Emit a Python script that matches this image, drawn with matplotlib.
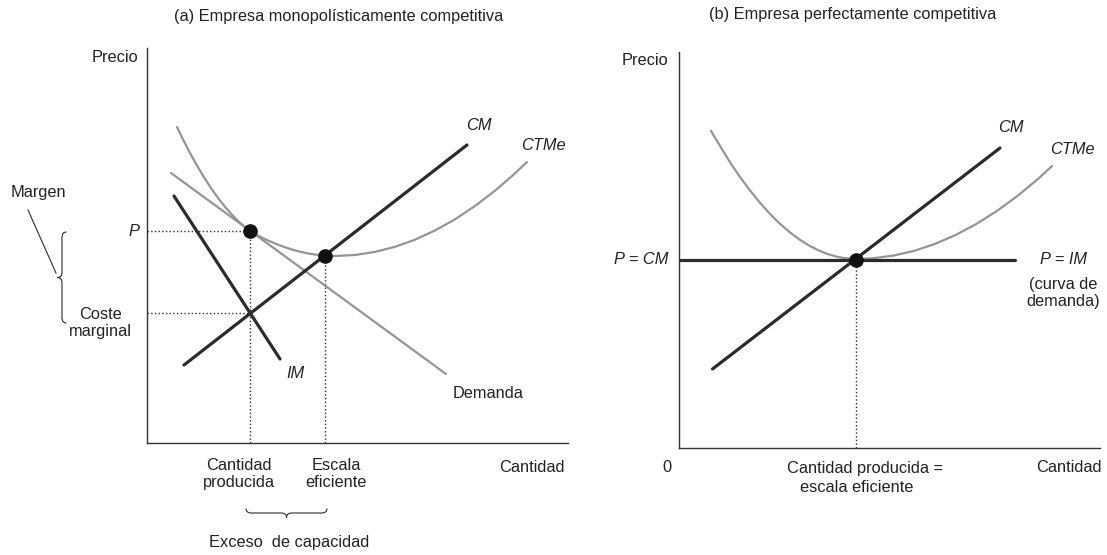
import matplotlib
matplotlib.use("Agg")
import matplotlib.pyplot as plt
from matplotlib.path import Path
from matplotlib.patches import PathPatch

plt.rcParams['font.family'] = ['Liberation Sans', 'DejaVu Sans']

# ---- (a) monopolistically competitive firm ----
ctme_a_q = [3.0, 3.6, 4.3, 5.0, 5.7, 6.4, 7.1, 7.8, 8.5, 9.2, 9.8, 10.3, 11.1,
            11.9, 12.8, 13.8, 14.9, 16.1, 17.3, 18.8, 20.8, 22.8, 24.8, 26.8,
            28.8, 30.8, 32.8, 34.8, 36.5, 38.0]
ctme_a_p = [31.6, 30.36, 29.0, 27.74, 26.57, 25.49, 24.51, 23.62, 22.82, 22.12,
            21.58, 21.2, 20.75, 20.35, 19.95, 19.57, 19.23, 18.95, 18.78, 18.7,
            18.8, 19.11, 19.62, 20.33, 21.25, 22.37, 23.7, 25.23, 26.69, 28.1]
demand_a_q = [2.4, 29.9]
demand_a_p = [27.0, 6.9]
cm_a_q = [3.7, 32.0]
cm_a_p = [7.8, 29.8]
im_a_q = [2.7, 13.3]
im_a_p = [24.7, 8.4]
q_prod_a, p_a = 10.3, 21.2        # quantity produced, price
cm_level_a = 13.0                 # marginal cost at quantity produced
q_eff_a, ctme_min_a = 17.8, 18.7  # efficient scale

# ---- (b) perfectly competitive firm ----
ctme_b_q = [3.2, 4.2, 5.15, 6.12, 7.1, 8.07, 9.04, 10.01, 10.99, 11.96, 12.93,
            13.91, 14.88, 15.85, 16.82, 17.7, 19.36, 21.43, 23.51, 25.58,
            27.66, 29.73, 31.8, 33.88, 35.95, 37.3]
ctme_b_p = [31.71, 30.05, 28.5, 27.07, 25.76, 24.56, 23.47, 22.5, 21.65, 20.91,
            20.29, 19.78, 19.39, 19.11, 18.95, 18.9, 18.97, 19.24, 19.71, 20.4,
            21.3, 22.4, 23.71, 25.23, 26.95, 28.19]
cm_b_q = [3.35, 32.1]
cm_b_p = [7.9, 30.0]
im_b_q = [0, 33.6]
price_b = 18.8
q_eff_b = 17.7

DARK = '#2b2b2b'
GRAY = '#959595'
FS = 11.8


def brace(ax, a0, a1, c, w, vertical=True):
    # curly brace from a0 to a1 at position c, tip pointing to -w side
    m = (a0 + a1) / 2
    d = w * 1.2
    pts = [(c + w, a1), (c, a1), (c, a1 - d),
           (c, m + d), (c, m), (c - w, m),
           (c, m), (c, m - d),
           (c, a0 + d), (c, a0), (c + w, a0)]
    if not vertical:
        pts = [(y, x) for x, y in pts]
    codes = [Path.MOVETO, Path.CURVE3, Path.CURVE3, Path.LINETO,
             Path.CURVE3, Path.CURVE3, Path.CURVE3, Path.CURVE3,
             Path.LINETO, Path.CURVE3, Path.CURVE3]
    ax.add_patch(PathPatch(Path(pts, codes), fc='none', ec=DARK, lw=0.8,
                           clip_on=False))


def setup(ax, xmax, ymax):
    ax.set_xlim(0, xmax)
    ax.set_ylim(0, ymax)
    for s in ['top', 'right']:
        ax.spines[s].set_visible(False)
    for s in ['left', 'bottom']:
        ax.spines[s].set_color('#333333')
        ax.spines[s].set_linewidth(1.0)
    ax.set_xticks([])
    ax.set_yticks([])


fig = plt.figure(figsize=(11.07, 5.55), dpi=100)
ax1 = fig.add_axes([147 / 1107, 1 - 443 / 555, 421 / 1107, 395 / 555])
ax2 = fig.add_axes([679 / 1107, 1 - 448 / 555, 421 / 1107, 396 / 555])
setup(ax1, 42.1, 39.5)
setup(ax2, 42.1, 39.6)

dot = dict(ls=':', color=DARK, lw=1.0)
curve = dict(color=GRAY, lw=1.6, solid_capstyle='round', solid_joinstyle='round')
bold = dict(color=DARK, lw=2.3, solid_capstyle='round')

# panel (a)
ax1.plot([0, q_prod_a], [p_a, p_a], **dot)
ax1.plot([0, q_prod_a], [cm_level_a, cm_level_a], **dot)
ax1.plot([q_prod_a, q_prod_a], [0, p_a], **dot)
ax1.plot([q_eff_a, q_eff_a], [0, ctme_min_a], **dot)
ax1.plot(ctme_a_q, ctme_a_p, **curve)
ax1.plot(demand_a_q, demand_a_p, **curve)
ax1.plot(cm_a_q, cm_a_p, **bold)
ax1.plot(im_a_q, im_a_p, **bold)
ax1.plot([q_prod_a, q_eff_a], [p_a, ctme_min_a], 'o', color='#111111', ms=9.5,
         zorder=5)

kw = dict(fontsize=FS, color='#222222', clip_on=False)
ax1.text(19.2, 42.6, '(a) Empresa monopolísticamente competitiva',
         ha='center', va='center', **kw)
ax1.text(-0.9, 38.5, 'Precio', ha='right', va='center', **kw)
ax1.text(-0.8, p_a, 'P', ha='right', va='center', style='italic', **kw)
ax1.text(-4.7, 12.0, 'Coste\nmarginal', ha='center', va='center',
         linespacing=1.2, **kw)
ax1.text(-10.9, 25.0, 'Margen', ha='center', va='center', **kw)
ax1.plot([-11.9, -9.1], [23.3, 17.0], color=DARK, lw=0.8, clip_on=False)
brace(ax1, 12.0, 21.1, -8.5, 0.45, vertical=True)
ax1.text(33.2, 31.8, 'CM', ha='center', va='center', style='italic', **kw)
ax1.text(39.6, 29.8, 'CTMe', ha='center', va='center', style='italic', **kw)
ax1.text(14.8, 7.0, 'IM', ha='center', va='center', style='italic', **kw)
ax1.text(34.1, 4.9, 'Demanda', ha='center', va='center', **kw)
ax1.text(9.2, -3.1, 'Cantidad\nproducida', ha='center', va='center',
         linespacing=1.2, **kw)
ax1.text(18.9, -3.1, 'Escala\neficiente', ha='center', va='center',
         linespacing=1.2, **kw)
ax1.text(38.5, -2.4, 'Cantidad', ha='center', va='center', **kw)
brace(ax1, 9.9, 18.0, -7.0, 0.45, vertical=False)
ax1.text(14.2, -10.0, 'Exceso  de capacidad', ha='center', va='center', **kw)

# panel (b)
ax2.plot([q_eff_b, q_eff_b], [0, price_b], **dot)
ax2.plot(ctme_b_q, ctme_b_p, **curve)
ax2.plot(im_b_q, [price_b, price_b], **bold)
ax2.plot(cm_b_q, cm_b_p, **bold)
ax2.plot([q_eff_b], [price_b], 'o', color='#111111', ms=9.5, zorder=5)

ax2.text(17.4, 43.3, '(b) Empresa perfectamente competitiva',
         ha='center', va='center', **kw)
ax2.text(-1.1, 38.7, 'Precio', ha='right', va='center', **kw)
ax2.text(-1.1, price_b, 'P = CM', ha='right', va='center', style='italic', **kw)
ax2.text(38.4, price_b, 'P = IM', ha='center', va='center', style='italic', **kw)
ax2.text(38.4, 15.5, '(curva de\ndemanda)', ha='center', va='center',
         linespacing=1.2, **kw)
ax2.text(33.2, 32.0, 'CM', ha='center', va='center', style='italic', **kw)
ax2.text(39.3, 29.8, 'CTMe', ha='center', va='center', style='italic', **kw)
ax2.text(-1.2, -1.9, '0', ha='center', va='center', **kw)
ax2.text(18.6, -2.0, 'Cantidad producida =', ha='center', va='center', **kw)
ax2.text(17.8, -4.0, 'escala eficiente', ha='center', va='center', **kw)
ax2.text(42.3, -2.0, 'Cantidad', ha='right', va='center', **kw)

fig.savefig('out.png', dpi=100)
